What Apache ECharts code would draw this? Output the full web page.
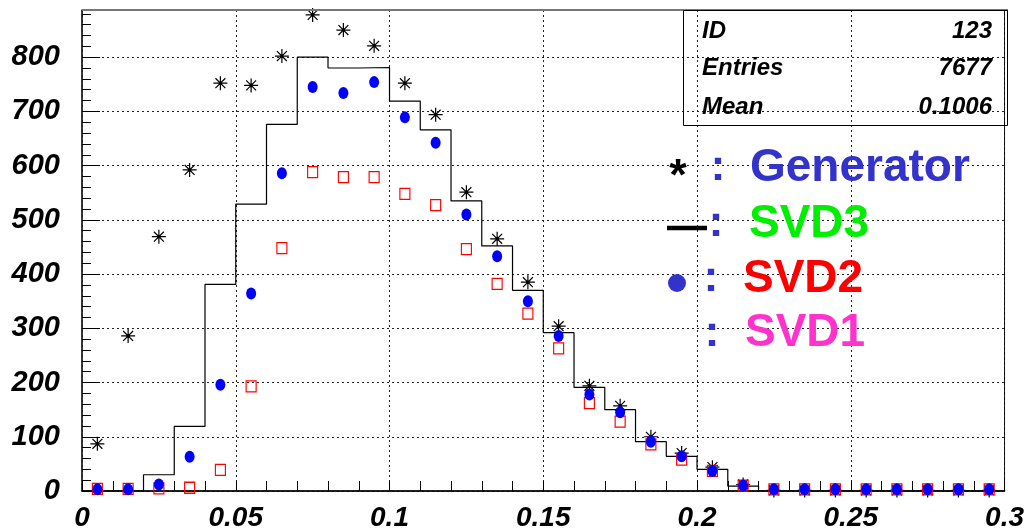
<!DOCTYPE html>
<html><head><meta charset="utf-8">
<script src="https://cdn.jsdelivr.net/npm/echarts@6/dist/echarts.min.js"></script>
<style>html,body{margin:0;padding:0;background:#fff}#c{width:1027px;height:532px}</style>
</head><body><div id="c"></div>
<script>
const binEdges = [0,0.01,0.02,0.03,0.04,0.05,0.06,0.07,0.08,0.09,0.1,0.11,0.12,0.13,0.14,0.15,0.16,0.17,0.18,0.19,0.2,0.21,0.22,0.23,0.24,0.25,0.26,0.27,0.28,0.29,0.3];
const binCenters = [0.005,0.015,0.025,0.035,0.045,0.055,0.065,0.075,0.085,0.095,0.105,0.115,0.125,0.135,0.145,0.155,0.165,0.175,0.185,0.195,0.205,0.215,0.225,0.235,0.245,0.255,0.265,0.275,0.285,0.295];
const generator = [87,286,469,592,752,748,802,878,850,821,752,694,551,465,385,304,194,157,100,70,44,12,1,1,1,1,1,1,1,1];
const svd3 = [0,0,30,119,381,529,676,800,780,781,719,666,535,452,370,292,191,150,91,64,40,9,0,0,0,0,0,0,0,0];
const svd2 = [3,3,12,63,196,364,586,745,734,754,689,642,510,433,350,286,178,145,91,64,37,10,3,3,3,3,3,3,3,3];
const svd1 = [4,4,5,6,39,193,448,588,579,579,548,527,446,382,327,263,162,128,86,58,37,10,3,3,3,3,3,3,3,3];
const xTickLabels = ['0','0.05','0.1','0.15','0.2','0.25','0.3'];
const yTickLabels = ['0','100','200','300','400','500','600','700','800'];
const statsLabels = ['ID','Entries','Mean'];
const statsValues = ['123','7677','0.1006'];
const legendNames = ['Generator','SVD3','SVD2','SVD1'];
const legendColors = ['#3333cc','#00ee00','#ff0000','#ff33cc'];

const FONT = "'Liberation Sans', Arial, Helvetica, sans-serif";
const chart = echarts.init(document.getElementById('c'), null, {renderer:'canvas'});

const histo = binEdges.map((e,i)=>[e, svd3[Math.min(i, svd3.length-1)]]);
const pts = arr => binCenters.map((c,i)=>[c, arr[i]]);

const statRows = [31, 68.5, 107.5];
const legRows = [168, 224, 279, 333.5];
const colonX = [718, 716, 711, 712];
const wordX = [750, 749, 743, 745];

const graphics = [
  {type:'line', shape:{x1:82,y1:10,x2:1008,y2:10}, style:{stroke:'#777',lineWidth:2}, z:100},
  {type:'rect', shape:{x:683.5,y:10.5,width:324,height:115}, style:{stroke:'#000',fill:'none',lineWidth:1}, z:100}
];
statsLabels.forEach((t,i)=>{
  graphics.push({type:'text', x:702, y:statRows[i], style:{text:t, font:`italic bold 24px ${FONT}`, fill:'#000', align:'left', verticalAlign:'middle'}, z:100});
  graphics.push({type:'text', x:992, y:statRows[i], style:{text:statsValues[i], font:`italic bold 24px ${FONT}`, fill:'#000', align:'right', verticalAlign:'middle'}, z:100});
});
legendNames.forEach((t,i)=>{
  graphics.push({type:'text', x:colonX[i], y:legRows[i], style:{text:':', font:`bold 45px ${FONT}`, fill:'#3333cc', align:'center', verticalAlign:'middle'}, z:100});
  graphics.push({type:'text', x:wordX[i], y:legRows[i], style:{text:t, font:`bold 46px ${FONT}`, fill:legendColors[i], align:'left', verticalAlign:'middle'}, z:100});
});
graphics.push({type:'text', x:678, y:178, style:{text:'*', font:`bold 45px ${FONT}`, fill:'#000', align:'center', verticalAlign:'middle'}, z:100});
graphics.push({type:'line', shape:{x1:667,y1:228,x2:707,y2:228}, style:{stroke:'#000',lineWidth:4.5}, z:100});
graphics.push({type:'circle', shape:{cx:677,cy:283,r:9}, style:{fill:'#3333cc'}, z:100});

const option = {
  animation:false,
  backgroundColor:'#fff',
  grid:{left:82, right:19, top:10, bottom:40, show:true, borderColor:'#000', borderWidth:1},
  xAxis:{
    type:'value', min:0, max:0.3, interval:0.05,
    axisLine:{show:true, onZero:false, lineStyle:{color:'#000', width:1.5}},
    axisTick:{show:true, inside:true, length:10, lineStyle:{color:'#000'}},
    minorTick:{show:true, splitNumber:5, length:10, lineStyle:{color:'#000'}},
    splitLine:{show:true, lineStyle:{color:'#222', type:[2,3], width:1}},
    axisLabel:{margin:13, color:'#000', fontSize:28, fontWeight:'bold', fontStyle:'italic', fontFamily:FONT,
      formatter:v=>{const k=Math.round(v/0.05); return xTickLabels[k]!==undefined?xTickLabels[k]:'';}}
  },
  yAxis:[{
    type:'value', min:0, max:887, interval:100,
    axisLine:{show:true, lineStyle:{color:'#222', width:1.5}},
    axisTick:{show:true, inside:true, length:18, lineStyle:{color:'#000'}},
    splitLine:{show:true, lineStyle:{color:'#222', type:[2,3], width:1}},
    axisLabel:{margin:22, showMaxLabel:false, color:'#000', fontSize:29, fontWeight:'bold', fontStyle:'italic', fontFamily:FONT,
      padding:[4,0,0,0],
      formatter:v=>{const k=Math.round(v/100); return (Math.abs(v-k*100)<1e-6 && yTickLabels[k]!==undefined)?yTickLabels[k]:'';}}
  },{
    type:'value', min:0, max:887, interval:20, position:'left',
    axisLine:{show:false}, axisLabel:{show:false}, splitLine:{show:false},
    axisTick:{show:true, inside:true, length:9, lineStyle:{color:'#000'}}
  }],
  series:[
    {type:'line', step:'end', data:histo, showSymbol:false, symbol:'none', lineStyle:{color:'#000', width:1.2}, z:2},
    {type:'scatter', data:pts(generator), symbol:'path://M6,0L6,12M0,6L12,6M1.76,1.76L10.24,10.24M1.76,10.24L10.24,1.76M5,5L7,5L7,7L5,7Z', symbolSize:14,
      itemStyle:{color:'#000', borderColor:'#000', borderWidth:1.2, opacity:1}, z:3},
    {type:'scatter', data:pts(svd1), symbol:'rect', symbolSize:[10,11],
      itemStyle:{color:'transparent', borderColor:'#ff0000', borderWidth:1.2, opacity:1}, z:4},
    {type:'scatter', data:pts(svd2), symbol:'circle', symbolSize:[10,12],
      itemStyle:{color:'#0000ff', opacity:1}, z:5}
  ],
  graphic:graphics
};
chart.setOption(option);
</script></body></html>
